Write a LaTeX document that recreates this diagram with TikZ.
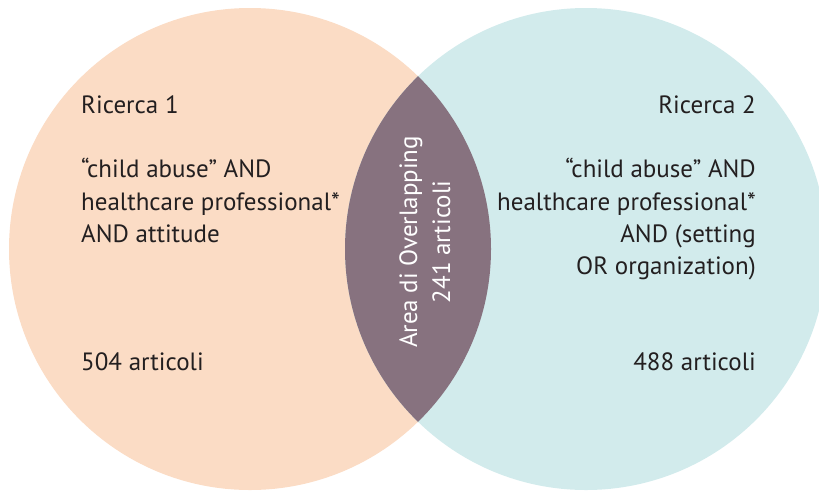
\documentclass[tikz,border=0pt]{standalone}
\usepackage{fontspec}
\setmainfont{PT Sans}
\definecolor{peach}{HTML}{FBDCC5}
\definecolor{paleblue}{HTML}{D2EBEC}
\definecolor{lensc}{HTML}{87727F}
\definecolor{txt}{HTML}{231F20}
\tikzset{
  lbl/.style={inner sep=0pt, text=txt, font=\fontsize{25}{30}\selectfont},
  lblL/.style={lbl, anchor=base west},
  lblR/.style={lbl, anchor=base east},
  lensl/.style={inner sep=0pt, text=white, font=\fontsize{25}{30}\selectfont, anchor=base, rotate=90}
}
\begin{document}
\begin{tikzpicture}[x=1pt,y=-1pt]
\clip (0,0) rectangle (819,491);
\coordinate (cL) at (250,249);
\coordinate (cR) at (586,249);
\fill[peach] (cL) circle[radius=241];
\fill[paleblue] (cR) circle[radius=241];
\begin{scope}
  \clip (cL) circle[radius=241];
  \fill[lensc] (cR) circle[radius=241];
\end{scope}
% left texts
\node[lblL] (l1) at (81,113) {Ricerca 1};
\node[lblL] (l2) at (81,177) {“child abuse” AND};
\node[lblL] (l3) at (81,210) {healthcare professional*};
\node[lblL] (l4) at (81,242) {AND attitude};
\node[lblL] (l5) at (81,370) {504 articoli};
% right texts
\node[lblR] (r1) at (756,113) {Ricerca 2};
\node[lblR] (r2) at (756,177) {“child abuse” AND};
\node[lblR] (r3) at (756,210) {healthcare professional*};
\node[lblR] (r4) at (756,242) {AND (setting};
\node[lblR] (r5) at (756,274) {OR organization)};
\node[lblR] (r6) at (756,370) {488 articoli};
% lens texts
\node[lensl] (m1) at (417,242) {Area di Overlapping};
\node[lensl] (m2) at (450,242) {241 articoli};
\end{tikzpicture}
\end{document}
